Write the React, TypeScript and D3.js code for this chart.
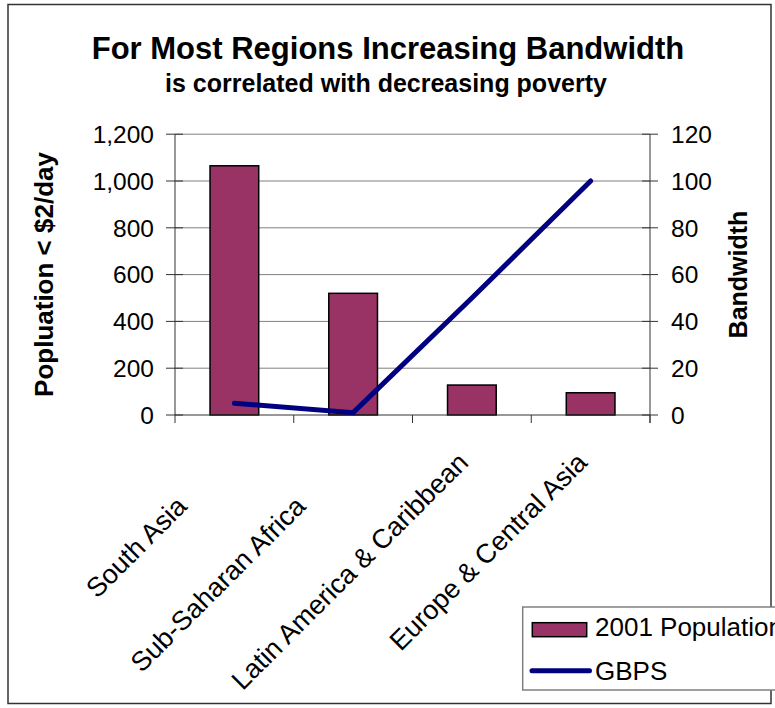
import React from "react";
import * as d3 from "d3";

const categories = ["South Asia", "Sub-Saharan Africa", "Latin America & Caribbean", "Europe & Central Asia"];
const population2001 = [1065, 520, 128, 95];
const gbps = [5, 1, 50, 100];
const leftTicks = [0, 200, 400, 600, 800, 1000, 1200];
const rightTicks = [0, 20, 40, 60, 80, 100, 120];

// layout: shift of each category label along its own (45°) baseline, px
const labelNudge = [-31, -31, 31, 31];

const W = 775;
const H = 708;
const FONT = "'Liberation Sans', Arial, Helvetica, sans-serif";

export default function App() {
  const left = 175, right = 650, top = 134.2, bottom = 415;
  const x = d3.scaleBand<string>().domain(categories).range([left, right]).padding(0);
  const yL = d3.scaleLinear().domain([0, 1200]).range([bottom, top]);
  const yR = d3.scaleLinear().domain([0, 120]).range([bottom, top]);
  const bw = x.bandwidth() * 0.41;
  const line = d3
    .line<number>()
    .x((_, i) => (x(categories[i]) as number) + x.bandwidth() / 2)
    .y((d) => yR(d));
  const fmt = d3.format(",");
  const tickEdges = categories.map((c) => x(c) as number).concat([right]);

  return (
    <svg width={W} height={H} style={{ position: "absolute", left: 0, top: 0 }} fontFamily={FONT}>
      <rect x={0} y={0} width={W} height={H} fill="#fff" />
      <rect x={8} y={4.5} width={763} height={699} fill="none" stroke="#333" strokeWidth={1.5} />
      <text x={388} y={59} textAnchor="middle" fontSize={31} fontWeight="bold">
        For Most Regions Increasing Bandwidth
      </text>
      <text x={386} y={92} textAnchor="middle" fontSize={25} fontWeight="bold">
        is correlated with decreasing poverty
      </text>

      {/* gridlines */}
      {leftTicks.slice(1).map((t) => (
        <line key={"g" + t} x1={left} x2={right} y1={yL(t)} y2={yL(t)} stroke="#808080" strokeWidth={1} />
      ))}

      {/* bars */}
      {population2001.map((v, i) => {
        const cx = (x(categories[i]) as number) + x.bandwidth() / 2;
        return (
          <rect
            key={"b" + i}
            x={cx - bw / 2}
            y={yL(v)}
            width={bw}
            height={bottom - yL(v)}
            fill="#993366"
            stroke="#000"
            strokeWidth={1.5}
          />
        );
      })}

      {/* axes */}
      <line x1={left} x2={left} y1={top} y2={bottom} stroke="#333" strokeWidth={1} />
      <line x1={right} x2={right} y1={top} y2={bottom + 8} stroke="#333" strokeWidth={1} />
      <line x1={left} x2={right} y1={bottom} y2={bottom} stroke="#333" strokeWidth={1.2} />
      {leftTicks.map((t) => (
        <g key={"l" + t}>
          <line x1={left - 9} x2={left + 8} y1={yL(t)} y2={yL(t)} stroke="#333" strokeWidth={1} />
          <text x={154} y={yL(t)} dy="0.36em" textAnchor="end" fontSize={24.5}>
            {fmt(t)}
          </text>
        </g>
      ))}
      {rightTicks.map((t) => (
        <g key={"r" + t}>
          <line x1={right - 8} x2={right + 8} y1={yR(t)} y2={yR(t)} stroke="#333" strokeWidth={1} />
          <text x={671} y={yR(t)} dy="0.36em" textAnchor="start" fontSize={24.5}>
            {t}
          </text>
        </g>
      ))}
      {tickEdges.map((tx, i) => (
        <line key={"t" + i} x1={tx} x2={tx} y1={bottom} y2={bottom + 8} stroke="#333" strokeWidth={1} />
      ))}

      {/* line series */}
      <path d={line(gbps) as string} fill="none" stroke="#000080" strokeWidth={5} strokeLinecap="round" strokeLinejoin="miter" />

      {/* axis titles */}
      <text transform={`translate(53,274.5) rotate(-90)`} textAnchor="middle" fontSize={26} fontWeight="bold">
        Popluation &lt; $2/day
      </text>
      <text transform={`translate(746.5,274.5) rotate(-90)`} textAnchor="middle" fontSize={25} fontWeight="bold">
        Bandwidth
      </text>

      {/* category labels */}
      {categories.map((c, i) => {
        const cx = (x(c) as number) + x.bandwidth() / 2;
        const s = labelNudge[i] * Math.SQRT1_2;
        return (
          <text
            key={"c" + i}
            transform={`translate(${cx - 24 + s},${486 - s}) rotate(-45)`}
            textAnchor="end"
            fontSize={27}
          >
            {c}
          </text>
        );
      })}

      {/* legend */}
      <rect x={522.7} y={607} width={300} height={83} fill="#fff" stroke="#808080" strokeWidth={1.5} />
      <rect x={532.3} y={622.7} width={54.4} height={14} fill="#993366" stroke="#000" strokeWidth={1.5} />
      <text x={595} y={635.5} fontSize={26}>
        2001 Population
      </text>
      <line x1={532} x2={589.5} y1={670.7} y2={670.7} stroke="#000080" strokeWidth={5} strokeLinecap="round" />
      <text x={595} y={679.5} fontSize={26}>
        GBPS
      </text>
    </svg>
  );
}
